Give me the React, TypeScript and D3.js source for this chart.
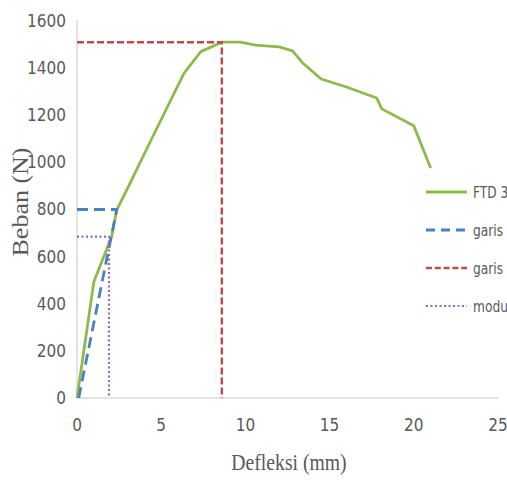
import React from "react";
import * as d3 from "d3";

const ftdX = [0, 1.0, 2.06, 2.36, 3.0, 4.4, 6.35, 7.35, 8.6, 9.7, 10.6, 12.0, 12.8, 13.4, 14.5, 16.0, 17.8, 18.1, 20.0, 21.0];
const ftdY = [0, 493, 685, 798, 890, 1095, 1378, 1470, 1510, 1510, 1498, 1490, 1473, 1422, 1354, 1320, 1273, 1227, 1155, 976];
const blueX = [0, 2.36, 0.1];
const blueY = [800, 800, 0];
const redX = [0, 8.6, 8.6];
const redY = [1510, 1510, 0];
const purpleX = [0, 1.9, 1.9];
const purpleY = [685, 685, 0];
const xTicks = [0, 5, 10, 15, 20, 25];
const yTicks = [0, 200, 400, 600, 800, 1000, 1200, 1400, 1600];
const legendLabels = ["FTD 3", "garis defleksi", "garis beban maksimum", "modulus elastisitas"];

const W = 507;
const H = 480;

export default function App() {
  const x = d3.scaleLinear().domain([0, 25]).range([77, 498]);
  const y = d3.scaleLinear().domain([0, 1600]).range([398, 21]);
  const line = d3
    .line<[number, number]>()
    .x((d) => x(d[0]))
    .y((d) => y(d[1]));
  const zip = (a: number[], b: number[]) => a.map((v, i) => [v, b[i]] as [number, number]);

  const series = [
    { d: zip(ftdX, ftdY), color: "#8fba4a", width: 2.8, dash: undefined as string | undefined, ldash: undefined as string | undefined },
    { d: zip(blueX, blueY), color: "#4a7fc1", width: 2.8, dash: "11,6", ldash: "9,6" },
    { d: zip(redX, redY), color: "#c4474a", width: 2.4, dash: "7,3", ldash: "6,2.8" },
    { d: zip(purpleX, purpleY), color: "#8a6bb5", width: 2.2, dash: "2,2.5", ldash: "2,2.5" },
  ];

  const tickFont = "'Liberation Sans Narrow', 'Arial Narrow', 'DejaVu Sans Condensed', sans-serif";
  const legendY = [192, 230, 268, 306];

  return (
    <svg
      width={W}
      height={H}
      style={{ position: "fixed", left: 0, top: 0, background: "#fff" }}
    >
      <rect x={0} y={0} width={W} height={H} fill="#fff" />
      <line x1={x(0)} x2={x(0)} y1={y(1600) - 1} y2={y(0)} stroke="#c8c8c8" strokeWidth={1} />
      <line x1={x(0)} x2={x(25)} y1={y(0)} y2={y(0)} stroke="#c8c8c8" strokeWidth={1} />
      {yTicks.map((t) => (
        <text
          key={"y" + t}
          x={66}
          y={y(t)}
          dy="0.35em"
          textAnchor="end"
          fontFamily={tickFont}
          fontSize={17}
          fill="#595959"
        >
          {t}
        </text>
      ))}
      {xTicks.map((t) => (
        <text
          key={"x" + t}
          x={x(t)}
          y={425}
          dy="0.35em"
          textAnchor="middle"
          fontFamily={tickFont}
          fontSize={17}
          fill="#595959"
        >
          {t}
        </text>
      ))}
      {series.map((s, i) => (
        <path
          key={"s" + i}
          d={line(s.d) || ""}
          fill="none"
          stroke={s.color}
          strokeWidth={s.width}
          strokeDasharray={s.dash}
          strokeLinejoin="round"
        />
      ))}
      <text
        transform={`translate(289,462) scale(0.82,1)`}
        textAnchor="middle"
        dy="0.35em"
        fontFamily="'Liberation Serif', 'Times New Roman', serif"
        fontSize={24}
        fill="#595959"
      >
        Defleksi (mm)
      </text>
      <text
        transform={`translate(20,202) rotate(-90) scale(1,0.85)`}
        textAnchor="middle"
        dy="0.35em"
        fontFamily="'Liberation Serif', 'Times New Roman', serif"
        fontSize={26}
        fill="#595959"
      >
        Beban (N)
      </text>
      {series.map((s, i) => (
        <g key={"l" + i}>
          <line
            x1={426}
            x2={467}
            y1={legendY[i]}
            y2={legendY[i]}
            stroke={s.color}
            strokeWidth={s.width}
            strokeDasharray={s.ldash}
          />
          <text
            transform={`translate(473,${legendY[i]}) scale(0.85,1)`}
            dy="0.35em"
            fontFamily={tickFont}
            fontSize={16}
            fill="#595959"
          >
            {legendLabels[i]}
          </text>
        </g>
      ))}
    </svg>
  );
}
